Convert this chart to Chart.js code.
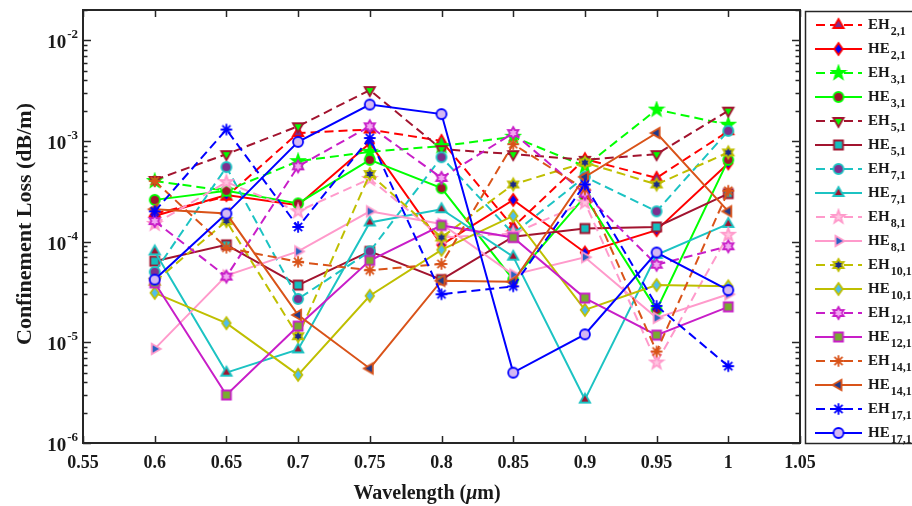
<!DOCTYPE html>
<html>
<head>
<meta charset="utf-8">
<script src="https://cdn.jsdelivr.net/npm/chart.js@4/dist/chart.umd.min.js"></script>
<style>
  html, body { margin: 0; padding: 0; background: #ffffff; }
  #wrap { width: 912px; height: 506px; position: relative; overflow: hidden; }
</style>
</head>
<body>
<div id="wrap"><canvas id="c" width="912" height="506"></canvas></div>
<script>
// ---- data ----
const wavelengths = [0.6, 0.65, 0.7, 0.75, 0.8, 0.85, 0.9, 0.95, 1.0];
const xTickValues = [0.55, 0.6, 0.65, 0.7, 0.75, 0.8, 0.85, 0.9, 0.95, 1.0, 1.05];
const yDecadeExponents = [-6, -5, -4, -3, -2];

const modeNames = ['EH', 'HE', 'EH', 'HE', 'EH', 'HE', 'EH', 'HE', 'EH', 'HE',
                   'EH', 'HE', 'EH', 'HE', 'EH', 'HE', 'EH', 'HE'];
const modeIndices = ['2,1', '2,1', '3,1', '3,1', '5,1', '5,1', '7,1', '7,1', '8,1', '8,1',
                     '10,1', '10,1', '12,1', '12,1', '14,1', '14,1', '17,1', '17,1'];

// confinement loss in dB/m for each mode
const eh21  = [1.9e-4, 2.8e-4, 1.2e-3, 1.3e-3, 1.0e-3, 1.4e-4, 6.6e-4, 4.3e-4, 1.25e-3];
const he21  = [1.8e-4, 2.9e-4, 2.3e-4, 9.5e-4, 9.3e-5, 2.6e-4, 7.8e-5, 1.3e-4, 6.0e-4];
const eh31  = [4.0e-4, 3.2e-4, 6.3e-4, 7.8e-4, 8.9e-4, 1.1e-3, 5.6e-4, 2.05e-3, 1.45e-3];
const he31  = [2.6e-4, 3.2e-4, 2.4e-4, 6.5e-4, 3.4e-4, 4.2e-5, 2.8e-4, 2.1e-5, 6.5e-4];
const eh51  = [4.1e-4, 7.4e-4, 1.4e-3, 3.2e-3, 8.3e-4, 7.4e-4, 6.5e-4, 7.4e-4, 2.0e-3];
const he51  = [6.4e-5, 9.3e-5, 3.7e-5, 8.0e-5, 4.2e-5, 1.12e-4, 1.35e-4, 1.4e-4, 3.0e-4];
const eh71  = [5.0e-5, 5.5e-4, 2.7e-5, 8.0e-5, 6.9e-4, 1.2e-4, 4.4e-4, 2.0e-4, 1.26e-3];
const he71  = [8.0e-5, 5.0e-6, 8.5e-6, 1.55e-4, 2.1e-4, 7.1e-5, 2.7e-6, 7.4e-5, 1.5e-4];
const eh81  = [1.5e-4, 3.9e-4, 2.0e-4, 4.2e-4, 1.1e-4, 1.2e-4, 2.45e-4, 6.3e-6, 1.17e-4];
const he81  = [8.6e-6, 4.6e-5, 8.0e-5, 2.0e-4, 1.5e-4, 4.7e-5, 7.0e-5, 1.75e-5, 3.0e-5];
const eh101 = [4.0e-5, 1.6e-4, 1.15e-5, 4.7e-4, 1.1e-4, 3.7e-4, 6.1e-4, 3.7e-4, 7.7e-4];
const he101 = [3.1e-5, 1.55e-5, 4.75e-6, 2.9e-5, 8.3e-5, 1.8e-4, 2.1e-5, 3.7e-5, 3.6e-5];
const eh121 = [1.6e-4, 4.5e-5, 5.6e-4, 1.4e-3, 4.3e-4, 1.2e-3, 3.0e-4, 5.9e-5, 9.0e-5];
const he121 = [3.9e-5, 3.0e-6, 1.45e-5, 6.5e-5, 1.45e-4, 1.1e-4, 2.75e-5, 1.18e-5, 2.25e-5];
const eh141 = [4.0e-4, 8.7e-5, 6.3e-5, 5.2e-5, 6.0e-5, 9.3e-4, 3.3e-4, 8.1e-6, 3.2e-4];
const he141 = [2.1e-4, 1.9e-4, 1.87e-5, 5.5e-6, 4.1e-5, 4.0e-5, 4.4e-4, 1.2e-3, 2.0e-4];
const eh171 = [2.0e-4, 1.3e-3, 1.4e-4, 1.07e-3, 3.0e-5, 3.6e-5, 3.7e-4, 2.3e-5, 5.8e-6];
const he171 = [4.2e-5, 1.9e-4, 9.8e-4, 2.3e-3, 1.85e-3, 5.0e-6, 1.2e-5, 7.8e-5, 3.3e-5];

const seriesValues = [eh21, he21, eh31, he31, eh51, he51, eh71, he71, eh81, he81,
                      eh101, he101, eh121, he121, eh141, he141, eh171, he171];

// ---- appearance ----
const RED = '#ff0000', GREEN = '#00ff00', MAROON = '#a2142f', CYAN = '#1cc3c3',
      PINK = '#ff9acb', OLIVE = '#bfbf00', MAGENTA = '#c81ec8', ORANGE = '#d95319',
      BLUE = '#0000ff';
const DASH = [9, 5];

const seriesStyles = [
  { color: RED,     dash: DASH, shape: 'triUp',     face: '#7b2d8e' },
  { color: RED,     dash: [],   shape: 'diamond',   face: '#0000ff' },
  { color: GREEN,   dash: DASH, shape: 'pentagram', face: GREEN },
  { color: GREEN,   dash: [],   shape: 'circle',    face: MAROON },
  { color: MAROON,  dash: DASH, shape: 'triDown',   face: GREEN },
  { color: MAROON,  dash: [],   shape: 'square',    face: '#14bfbf' },
  { color: CYAN,    dash: DASH, shape: 'circle',    face: '#7e2f8e' },
  { color: CYAN,    dash: [],   shape: 'triUp',     face: MAROON },
  { color: PINK,    dash: DASH, shape: 'pentagram', face: '#ffc6e2' },
  { color: PINK,    dash: [],   shape: 'triRight',  face: '#2a62c4' },
  { color: OLIVE,   dash: DASH, shape: 'hexagram',  face: '#1a2a8a' },
  { color: OLIVE,   dash: [],   shape: 'diamond',   face: '#4dbeee' },
  { color: MAGENTA, dash: DASH, shape: 'hexagram',  face: '#f2a6f2' },
  { color: MAGENTA, dash: [],   shape: 'square',    face: '#77ac30' },
  { color: ORANGE,  dash: DASH, shape: 'asterisk',  face: ORANGE },
  { color: ORANGE,  dash: [],   shape: 'triLeft',   face: '#1f3a8a' },
  { color: BLUE,    dash: DASH, shape: 'asterisk',  face: BLUE },
  { color: BLUE,    dash: [],   shape: 'circle',    face: '#d4b8f2' }
];

const SERIF = '"Liberation Serif", "Times New Roman", serif';

function markerPath(ctx, shape, r) {
  ctx.beginPath();
  const poly = (pts) => { pts.forEach((p, i) => i ? ctx.lineTo(p[0], p[1]) : ctx.moveTo(p[0], p[1])); ctx.closePath(); };
  const tri = (a0) => {
    const R = r * 1.2, pts = [];
    for (let k = 0; k < 3; k++) { const a = a0 + k * 2 * Math.PI / 3; pts.push([R * Math.cos(a), R * Math.sin(a)]); }
    poly(pts);
  };
  const star = (n, ro, ri) => {
    const pts = [];
    for (let k = 0; k < 2 * n; k++) {
      const a = -Math.PI / 2 + k * Math.PI / n, rr = k % 2 ? ri : ro;
      pts.push([rr * Math.cos(a), rr * Math.sin(a)]);
    }
    poly(pts);
  };
  switch (shape) {
    case 'circle': ctx.arc(0, 0, r, 0, Math.PI * 2); break;
    case 'square': { const s = r * 0.9; ctx.rect(-s, -s, 2 * s, 2 * s); break; }
    case 'diamond': poly([[0, -r * 1.2], [r * 0.85, 0], [0, r * 1.2], [-r * 0.85, 0]]); break;
    case 'triUp': tri(-Math.PI / 2); break;
    case 'triDown': tri(Math.PI / 2); break;
    case 'triLeft': tri(Math.PI); break;
    case 'triRight': tri(0); break;
    case 'pentagram': star(5, r * 1.35, r * 0.55); break;
    case 'hexagram': star(6, r * 1.2, r * 0.68); break;
    case 'asterisk':
      for (let k = 0; k < 4; k++) {
        const a = k * Math.PI / 4, R = r * 1.15;
        ctx.moveTo(-R * Math.cos(a), -R * Math.sin(a));
        ctx.lineTo(R * Math.cos(a), R * Math.sin(a));
      }
      break;
  }
}

function makeMarker(style) {
  const r = 5, lw = 1.8;
  const size = Math.ceil(2 * r * 1.4 + lw + 2);
  const cv = document.createElement('canvas');
  cv.width = size; cv.height = size;
  const g = cv.getContext('2d');
  g.translate(size / 2, size / 2);
  markerPath(g, style.shape, r);
  if (style.shape !== 'asterisk') { g.fillStyle = style.face; g.fill(); }
  g.lineWidth = lw; g.strokeStyle = style.color; g.lineJoin = 'miter';
  g.stroke();
  return cv;
}

const markers = seriesStyles.map(makeMarker);

const datasets = seriesValues.map((vals, i) => ({
  label: modeNames[i] + modeIndices[i],
  data: wavelengths.map((w, j) => ({ x: w, y: vals[j] })),
  borderColor: seriesStyles[i].color,
  backgroundColor: seriesStyles[i].color,
  borderWidth: 2,
  borderDash: seriesStyles[i].dash,
  pointStyle: markers[i],
  pointRadius: 5,
  pointHoverRadius: 5,
  tension: 0,
  fill: false,
  order: seriesValues.length - i
}));

// ---- frame, y labels, titles and legend ----
const framePlugin = {
  id: 'frame',
  afterDraw(chart) {
    const { ctx, chartArea: a, scales: { x, y } } = chart;
    ctx.save();
    ctx.strokeStyle = '#262626';
    ctx.lineWidth = 2;
    ctx.strokeRect(a.left, a.top, a.right - a.left, a.bottom - a.top);

    ctx.lineWidth = 1.5;
    ctx.beginPath();
    xTickValues.forEach(v => {
      const px = Math.round(x.getPixelForValue(v)) + 0.5;
      ctx.moveTo(px, a.bottom); ctx.lineTo(px, a.bottom - 7);
      ctx.moveTo(px, a.top); ctx.lineTo(px, a.top + 7);
    });
    yDecadeExponents.forEach(e => {
      for (let m = 1; m <= 9; m++) {
        const v = m * Math.pow(10, e);
        if (v > y.max * 1.0001 || v < y.min * 0.9999) continue;
        const py = Math.round(y.getPixelForValue(v)) + 0.5;
        const len = m === 1 ? 8 : 4.5;
        ctx.moveTo(a.left, py); ctx.lineTo(a.left + len, py);
        ctx.moveTo(a.right, py); ctx.lineTo(a.right - len, py);
      }
    });
    ctx.stroke();

    // y tick labels 10^n
    ctx.fillStyle = '#1a1a1a';
    yDecadeExponents.forEach(e => {
      const py = y.getPixelForValue(Math.pow(10, e));
      const base = '10', exp = String(e);
      ctx.font = 'bold 19px ' + SERIF;
      const wb = ctx.measureText(base).width;
      ctx.font = 'bold 13px ' + SERIF;
      const we = ctx.measureText(exp).width;
      const right = a.left - 5;
      ctx.textBaseline = 'alphabetic';
      ctx.textAlign = 'left';
      ctx.font = 'bold 19px ' + SERIF;
      ctx.fillText(base, right - we - wb - 1, py + 8);
      ctx.font = 'bold 13px ' + SERIF;
      ctx.fillText(exp, right - we, py - 2);
    });

    // axis titles
    ctx.fillStyle = '#1a1a1a';
    ctx.save();
    ctx.translate(25, 224);
    ctx.rotate(-Math.PI / 2);
    ctx.textAlign = 'center';
    ctx.textBaseline = 'middle';
    ctx.font = 'bold 22px ' + SERIF;
    ctx.fillText('Confinement Loss (dB/m)', 0, 0);
    ctx.restore();

    const parts = [['Wavelength (', 'bold 20px ' + SERIF], ['\u03bc', 'italic bold 20px ' + SERIF], ['m)', 'bold 20px ' + SERIF]];
    let total = 0;
    parts.forEach(p => { ctx.font = p[1]; total += ctx.measureText(p[0]).width; });
    let tx = 427 - total / 2;
    ctx.textAlign = 'left';
    ctx.textBaseline = 'alphabetic';
    parts.forEach(p => { ctx.font = p[1]; ctx.fillText(p[0], tx, 499); tx += ctx.measureText(p[0]).width; });

    // legend
    const lx = 805, ly = 11, lb = a.bottom;
    ctx.fillStyle = '#ffffff';
    ctx.fillRect(lx, ly, 912 - lx + 5, lb - ly);
    ctx.strokeStyle = '#262626';
    ctx.lineWidth = 1.5;
    ctx.strokeRect(lx + 0.5, ly + 0.5, 912 - lx + 5, lb - ly);
    const step = (lb - ly - 24) / (seriesStyles.length - 1);
    seriesStyles.forEach((s, i) => {
      const cy = ly + 14 + i * step;
      ctx.save();
      ctx.strokeStyle = s.color;
      ctx.lineWidth = 2;
      ctx.setLineDash(s.dash);
      ctx.lineDashOffset = s.dash.length ? -1 : 0;
      ctx.beginPath();
      ctx.moveTo(815, cy); ctx.lineTo(862, cy);
      ctx.stroke();
      ctx.restore();
      const mk = markers[i];
      ctx.drawImage(mk, 838.5 - mk.width / 2, cy - mk.height / 2);
      ctx.fillStyle = '#1a1a1a';
      ctx.textAlign = 'left';
      ctx.textBaseline = 'alphabetic';
      ctx.font = 'bold 15px ' + SERIF;
      ctx.fillText(modeNames[i], 868, cy + 4);
      const w = ctx.measureText(modeNames[i]).width;
      ctx.font = 'bold 12px ' + SERIF;
      ctx.fillText(modeIndices[i], 868 + w + 1, cy + 10);
    });
    ctx.restore();
  }
};

new Chart(document.getElementById('c'), {
  type: 'line',
  data: { datasets },
  options: {
    responsive: false,
    animation: false,
    devicePixelRatio: 1,
    layout: { padding: { top: 10, right: 112, left: 0, bottom: 0 } },
    plugins: { legend: { display: false }, tooltip: { enabled: false } },
    scales: {
      x: {
        type: 'linear',
        min: 0.55,
        max: 1.05,
        afterBuildTicks: (s) => { s.ticks = xTickValues.map(v => ({ value: v })); },
        afterFit: (s) => { s.height = 63; },
        grid: { display: false, drawTicks: false },
        border: { display: false },
        ticks: {
          autoSkip: false,
          maxRotation: 0,
          padding: 10,
          color: '#1a1a1a',
          font: { family: SERIF, size: 18, weight: 'bold' },
          callback: (v) => String(parseFloat(Number(v).toFixed(2)))
        }
      },
      y: {
        type: 'logarithmic',
        min: 1e-6,
        max: 2e-2,
        afterFit: (s) => { s.width = 83; },
        grid: { display: false, drawTicks: false },
        border: { display: false },
        ticks: { display: false }
      }
    }
  },
  plugins: [framePlugin]
});
</script>
</body>
</html>
